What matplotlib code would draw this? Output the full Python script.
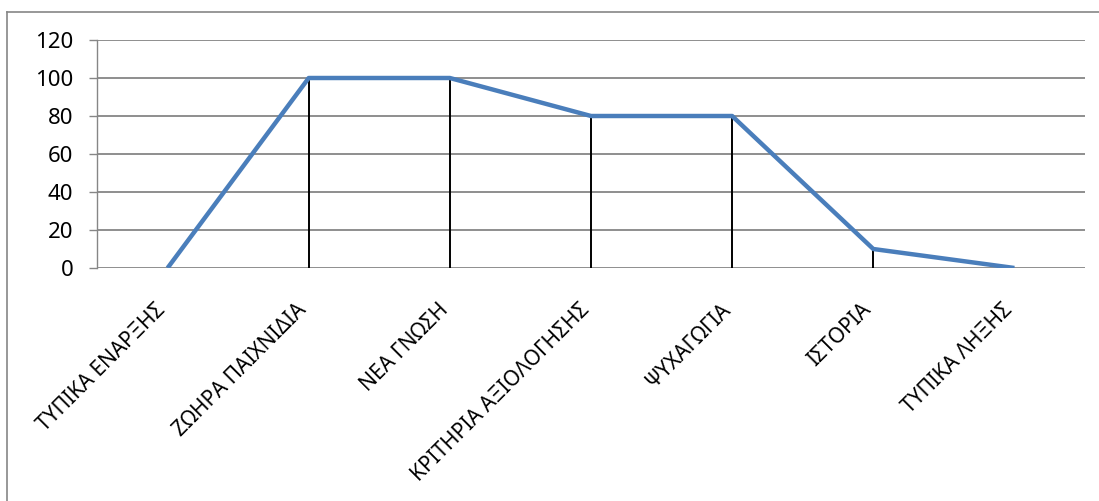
import matplotlib
matplotlib.use("Agg")
import matplotlib.pyplot as plt
from matplotlib.lines import Line2D
from matplotlib.transforms import ScaledTranslation

categories = ["ΤΥΠΙΚΑ ΕΝΑΡΞΗΣ", "ΖΩΗΡΑ ΠΑΙΧΝΙΔΙΑ", "ΝΕΑ ΓΝΩΣΗ",
              "ΚΡΙΤΗΡΙΑ ΑΞΙΟΛΟΓΗΣΗΣ", "ΨΥΧΑΓΩΓΙΑ", "ΙΣΤΟΡΙΑ", "ΤΥΠΙΚΑ ΛΗΞΗΣ"]
values = [0, 100, 100, 80, 80, 10, 0]
yticks = [0, 20, 40, 60, 80, 100, 120]

plt.rcParams['font.family'] = ['Noto Sans', 'DejaVu Sans']

W, H = 1099, 501
fig = plt.figure(figsize=(W / 100, H / 100), dpi=100)
left, right, top, bottom = 97, 1085, 40, 268
ax = fig.add_axes([left / W, 1 - bottom / H, (right - left) / W, (bottom - top) / H])

grid_c = "#868686"
x = list(range(len(categories)))
ax.set_xlim(-0.5, len(categories) - 0.5)
ax.set_ylim(0, 120)
ax.set_yticks(yticks)
ax.set_yticklabels([str(v) for v in yticks], fontsize=16)
ax.yaxis.grid(True, color=grid_c, linewidth=1.3)
ax.set_axisbelow(True)

ax.vlines(x, 0, values, colors="black", linewidth=1.4, zorder=2)
ax.plot(x, values, color="#4A7EBB", linewidth=3.2, solid_capstyle="butt", zorder=3)

for s in ["top", "right", "bottom"]:
    ax.spines[s].set_visible(False)
ax.spines["left"].set_color(grid_c)
ax.spines["left"].set_linewidth(1.0)
ax.tick_params(axis="y", length=6, color=grid_c, width=1.0, pad=11)
ax.tick_params(axis="x", length=0, pad=28)
ax.set_xticks(x)
ax.set_xticklabels(categories, rotation=45, ha="right", va="center",
                   rotation_mode="anchor", fontsize=15)
shift = ScaledTranslation(-5 / 100, 0, fig.dpi_scale_trans)
for lbl in ax.get_xticklabels():
    lbl.set_transform(lbl.get_transform() + shift)

# outer chart border (partially visible)
fig.add_artist(Line2D([7 / W, 1.0], [1 - 12 / H, 1 - 12 / H], color=grid_c, linewidth=1.2))
fig.add_artist(Line2D([7 / W, 7 / W], [1 - 12 / H, 0.0], color=grid_c, linewidth=1.2))

fig.savefig("out.png", dpi=100)
